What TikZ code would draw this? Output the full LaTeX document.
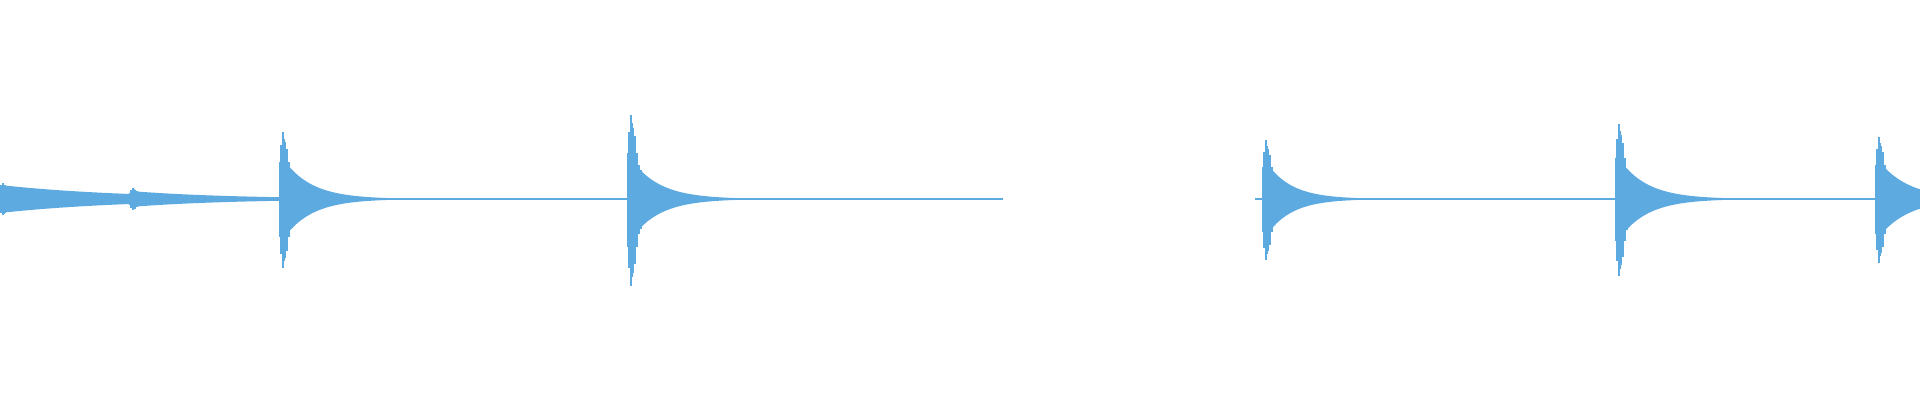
\documentclass[tikz,border=0pt]{standalone}
\usepackage{tikz}
\definecolor{wave}{RGB}{93,170,225}
\tikzset{wavefill/.style={fill=wave}, waveline/.style={draw=wave, line width=0.6pt}}
% burst: onset x, amplitude, decay, length, peak spike height
\newcommand{\burst}[5]{%
  \fill[wavefill] plot[domain=0:#4, samples=80] ({#1+\x},{201+#2*exp(-\x/#3)})
    -- plot[domain=#4:0, samples=80] ({#1+\x},{201-#2*exp(-\x/#3)}) -- cycle;
  \foreach \d/\h in {0/0.55,1/0.8,2/0.7,3/1,4/0.9,5/0.85,6/0.6,7/0.75,8/0.5,9/0.55,11/0.4,13/0.35}
    \draw[waveline] ({#1+\d},{201+#5*\h}) -- ({#1+\d},{201-#5*\h*1.03});
}
\begin{document}
\begin{tikzpicture}[x=0.01cm, y=0.01cm]
  \useasboundingbox (0,0) rectangle (1920,400);
  % baseline
  \draw[waveline] (0,201) -- (1003,201);
  \draw[waveline] (1255,201) -- (1920,201);
  % bursts
  \burst{0}{14}{126}{131}{16}
  \burst{130}{8}{100}{150}{11}
  \burst{280}{45}{28}{180}{67}
  \burst{628}{45}{28}{180}{84}
  \burst{1263}{42}{25}{180}{59}
  \burst{1616}{45}{28}{180}{75}
  \burst{1876}{42}{30}{44}{62}
\end{tikzpicture}
\end{document}
